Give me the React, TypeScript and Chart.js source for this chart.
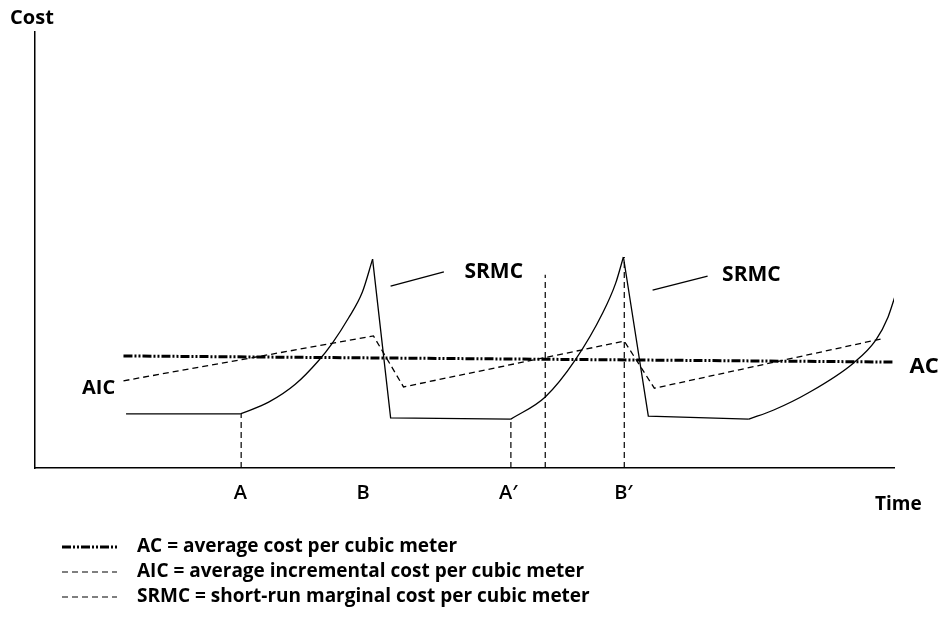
import React, { useEffect, useRef } from "react";
import { Chart, registerables } from "chart.js";

Chart.register(...registerables);

// ---- data (abstract time / cost units) ----
const xRange = [0, 100];
const yRange = [0, 100];

// SRMC: short-run marginal cost, split into straight pieces and rising curves
const srmcFlat1: [number, number][] = [[10.6, 12.4], [23.9, 12.4]];
const srmcRise1: [number, number][] = [[23.9, 12.4], [27.2, 15.1], [30.3, 19.2], [33.0, 24.6], [34.6, 28.6], [36.5, 34.4], [38.1, 40.3], [39.3, 47.9]];
const srmcDrop1: [number, number][] = [[39.3, 47.9], [41.4, 11.5], [55.4, 11.2]];
const srmcRise2: [number, number][] = [[55.4, 11.2], [59.4, 16.3], [62.9, 24.8], [66.1, 35.6], [67.6, 42.4], [68.5, 48.4]];
const srmcDrop2: [number, number][] = [[68.5, 48.4], [71.4, 11.9], [83.1, 11.2]];
const srmcRise3: [number, number][] = [[83.1, 11.2], [86.0, 13.3], [90.0, 17.2], [95.3, 24.1], [97.9, 29.4], [99.3, 34.6], [100.2, 39.9]];

// AIC: average incremental cost
const aicPoints: [number, number][] = [[10.3, 20.0], [39.4, 30.3], [42.9, 18.6], [68.6, 29.1], [72.1, 18.3], [98.5, 29.6]];

// AC: average cost
const acPoints: [number, number][] = [[10.3, 25.7], [100.2, 24.3]];

// vertical guide lines
const guideX = [24.0, 55.4, 59.4, 68.6];
const guideTop = [12.4, 11.2, 44.3, 48.4];

// SRMC leader lines
const leader1: [number, number][] = [[41.4, 41.7], [47.6, 45.0]];
const leader2: [number, number][] = [[71.9, 40.8], [78.3, 44.0]];

// x-axis tick labels
const tickValues = [23.9, 38.2, 55.1, 68.5];
const tickLabels = ["A", "B", "A\u2032", "B\u2032"];

// legend
const legendLabels = [
  "AC = average cost per cubic meter",
  "AIC = average incremental cost per cubic meter",
  "SRMC = short-run marginal cost per cubic meter",
];

const FONT = '"Open Sans", "Liberation Sans", sans-serif';
const AC_DASH = [9, 2, 2, 2, 2, 2];
const DASH = [6, 4];

const toXY = (pts: [number, number][]) => pts.map(([x, y]) => ({ x, y }));

export default function App() {
  const ref = useRef<HTMLCanvasElement | null>(null);

  useEffect(() => {
    document.body.style.margin = "0";
    const canvas = ref.current;
    if (!canvas) return;

    const solid = (pts: [number, number][], curved: boolean) => ({
      data: toXY(pts),
      showLine: true,
      borderColor: "#000",
      borderWidth: 1.3,
      pointRadius: 0,
      fill: false,
      tension: 0,
      cubicInterpolationMode: curved ? "monotone" : "default",
    });

    const datasets: any[] = [
      solid(srmcFlat1, false),
      solid(srmcRise1, true),
      solid(srmcDrop1, false),
      solid(srmcRise2, true),
      solid(srmcDrop2, false),
      solid(srmcRise3, true),
      solid(leader1, false),
      solid(leader2, false),
      {
        data: toXY(aicPoints),
        showLine: true,
        borderColor: "#000",
        borderWidth: 1.3,
        borderDash: DASH,
        pointRadius: 0,
        fill: false,
      },
      {
        data: toXY(acPoints),
        showLine: true,
        borderColor: "#000",
        borderWidth: 3,
        borderDash: AC_DASH,
        pointRadius: 0,
        fill: false,
      },
      ...guideX.map((gx, i) => ({
        data: [
          { x: gx, y: 0 },
          { x: gx, y: guideTop[i] },
        ],
        showLine: true,
        borderColor: "#000",
        borderWidth: 1.2,
        borderDash: DASH,
        pointRadius: 0,
        fill: false,
      })),
    ];

    const textPlugin = {
      id: "textPlugin",
      afterDraw(chart: any) {
        const ctx = chart.ctx as CanvasRenderingContext2D;
        const xs = chart.scales.x;
        const ys = chart.scales.y;
        const put = (t: string, x: number, y: number, size: number, weight = "700", align: CanvasTextAlign = "center") => {
          ctx.font = `${weight} ${size}px ${FONT}`;
          ctx.fillStyle = "#000";
          ctx.textAlign = align;
          ctx.textBaseline = "middle";
          ctx.fillText(t, x, y);
        };
        ctx.save();
        // x tick labels
        tickValues.forEach((v, i) => {
          put(tickLabels[i], xs.getPixelForValue(v), ys.getPixelForValue(-5.7), 20, "600");
        });
        put("SRMC", xs.getPixelForValue(53.4), ys.getPixelForValue(45.0), 21);
        put("SRMC", xs.getPixelForValue(83.4), ys.getPixelForValue(44.3), 21);
        put("AIC", xs.getPixelForValue(7.4), ys.getPixelForValue(18.3), 20);
        put("AC", xs.getPixelForValue(103.5), ys.getPixelForValue(23.2), 22);
        put("Time", xs.getPixelForValue(100.5), ys.getPixelForValue(-8.3), 19);
        put("Cost", xs.getPixelForValue(-0.35), ys.getPixelForValue(103.2), 20);

        // legend
        const rows = [547, 572, 597];
        const x0 = 62;
        const x1 = 117;
        rows.forEach((ry, i) => {
          ctx.beginPath();
          ctx.strokeStyle = "#000";
          if (i === 0) {
            ctx.lineWidth = 3;
            ctx.setLineDash(AC_DASH);
          } else {
            ctx.lineWidth = 1.2;
            ctx.setLineDash(DASH);
          }
          ctx.moveTo(x0, ry);
          ctx.lineTo(x1, ry);
          ctx.stroke();
          ctx.setLineDash([]);
          put(legendLabels[i], 137, ry, 19, "700", "left");
        });
        ctx.restore();
      },
    };

    const chart = new Chart(canvas, {
      type: "scatter",
      data: { datasets },
      options: {
        animation: false,
        responsive: false,
        events: [],
        layout: { padding: { left: 35, right: 46, top: 32, bottom: 151 } },
        plugins: { legend: { display: false }, tooltip: { enabled: false } },
        scales: {
          x: {
            type: "linear",
            min: xRange[0],
            max: xRange[1],
            grid: { display: false },
            border: { display: true, color: "#000", width: 1.5 },
            ticks: { display: false },
            afterFit: (s: any) => {
              s.height = 0;
            },
          },
          y: {
            type: "linear",
            min: yRange[0],
            max: yRange[1],
            grid: { display: false },
            border: { display: true, color: "#000", width: 1.5 },
            ticks: { display: false },
            afterFit: (s: any) => {
              s.width = 0;
            },
          },
        },
      } as any,
      plugins: [textPlugin],
    });

    return () => chart.destroy();
  }, []);

  return (
    <div style={{ width: 940, height: 619 }}>
      <canvas ref={ref} width={940} height={619} />
    </div>
  );
}
